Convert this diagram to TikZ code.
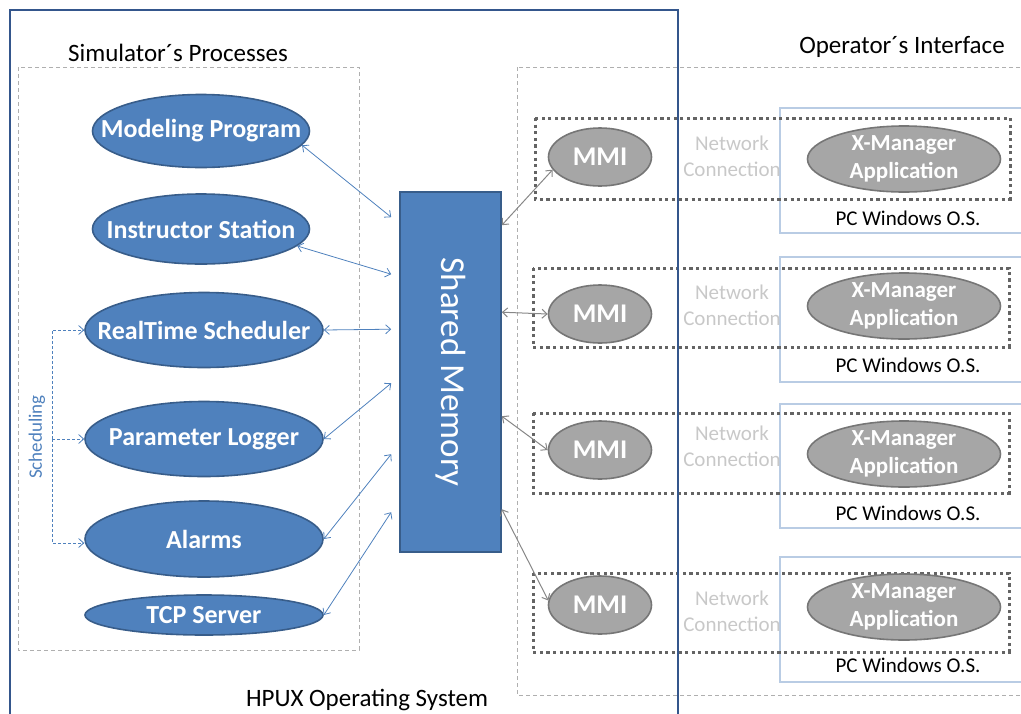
\documentclass[tikz,border=0pt]{standalone}
\usepackage{fontspec}
\setmainfont{Carlito}
\usetikzlibrary{shapes.geometric,arrows.meta}
\definecolor{procblue}{RGB}{79,129,189}
\definecolor{procedge}{RGB}{56,93,138}
\definecolor{osframe}{RGB}{52,86,140}
\definecolor{mmigray}{RGB}{166,166,166}
\definecolor{mmiedge}{RGB}{118,118,118}
\definecolor{linkgray}{RGB}{135,135,135}
\definecolor{dotgray}{RGB}{100,100,100}
\definecolor{pcblue}{RGB}{185,204,228}
\definecolor{netgray}{RGB}{200,200,200}
\definecolor{dashgray}{RGB}{175,175,175}
\begin{document}
\begin{tikzpicture}[x=1pt,y=-1pt,>={Straight Barb[length=5pt,width=9pt]}]
    \tikzstyle{every node}+=[inner sep=0pt]
    \tikzstyle{proc}=[ellipse,draw=procedge,line width=1.6,fill=procblue,minimum width=238,minimum height=75]
    \tikzstyle{ptext}=[text=white,font=\fontsize{26}{28}\selectfont\bfseries]
    \tikzstyle{mmi}=[ellipse,draw=mmiedge,line width=1.6,fill=mmigray,text=white,minimum width=103,minimum height=58,font=\fontsize{27}{28}\selectfont\bfseries]
    \tikzstyle{xman}=[ellipse,draw=mmiedge,line width=1.6,fill=mmigray,minimum width=193,minimum height=66]
    \tikzstyle{xtext}=[text=white,align=center,font=\fontsize{23}{28}\selectfont\bfseries]
    \tikzstyle{pcbox}=[draw=pcblue,line width=2.6]
    \tikzstyle{grp}=[draw=dotgray,line width=3,dash pattern=on 3.2pt off 3.4pt]
    \tikzstyle{area}=[draw=dashgray,line width=0.8,dash pattern=on 4pt off 3pt]
    \tikzstyle{net}=[text=netgray,align=center,font=\fontsize{21}{26}\selectfont]
    \tikzstyle{pctext}=[font=\fontsize{21}{24}\selectfont]
    \tikzstyle{blink}=[<->,procblue,line width=0.8]
    \tikzstyle{glink}=[<->,linkgray,line width=1]
    \tikzstyle{sched}=[->,procblue,line width=0.8,dash pattern=on 3pt off 2pt]
    \useasboundingbox (0,0) rectangle (1021,713);
    \draw [area] (18,67) rectangle (359,650);
    \draw [area] (517,67) rectangle (1040,695);
    \draw (178,53) node (simlabel) [font=\fontsize{25}{28}\selectfont] {Simulator´s Processes};
    \draw (902,47) node (oplabel) [font=\fontsize{25}{28}\selectfont] {Operator´s Interface};
    \draw (367,706) node (oslabel) [anchor=base,font=\fontsize{25}{28}\selectfont] {HPUX Operating System};
    \draw [pcbox] (780,108) rectangle (1040,233);
    \draw [pcbox] (780,257) rectangle (1040,382);
    \draw [pcbox] (780,404) rectangle (1040,528);
    \draw [pcbox] (780,557) rectangle (1040,682);
    \draw [grp] (535,118) rectangle (1010,199);
    \draw [grp] (533,268) rectangle (1009,347);
    \draw [grp] (533,413) rectangle (1009,493);
    \draw [grp] (533,573) rectangle (1009,652);
    \draw (201,131) node (mp) [proc,minimum width=217,minimum height=73,label={[ptext]center:Modeling Program}] {};
    \draw (201,229) node (is) [proc,minimum width=217,minimum height=70,label={[ptext]center:Instructor Station}] {};
    \draw (204,330) node (rts) [proc,label={[ptext]center:RealTime Scheduler}] {};
    \draw (204,439) node (pl) [proc,label={[ptext]center:Parameter Logger}] {};
    \draw (204,539) node (al) [proc,minimum height=76,label={[ptext]center:Alarms}] {};
    \draw (204,615) node (tcp) [proc,minimum height=40,label={[ptext]center:TCP Server}] {};
    \draw (450.5,372) node (shm) [draw=procedge,line width=1.6,fill=procblue,minimum width=101,minimum height=360] {};
    \draw (shm.center) node (shmtext) [rotate=-90,text=white,font=\fontsize{35}{38}\selectfont] {Shared Memory};
    \draw (37,437) node (schedtext) [rotate=90,text=procblue,font=\fontsize{19}{22}\selectfont] {Scheduling};
    \coordinate (sc) at (52,439);
    \draw [sched] (sc) |- (rts.west);
    \draw [sched] (sc) -- (pl.west);
    \draw [sched] (sc) |- ([yshift=-4pt]al.west);
    \draw [blink] (mp.-8) -- ([shift={(-8,26)}]shm.north west);
    \draw [blink] (is.-10) -- ([shift={(-8,83)}]shm.north west);
    \draw [blink] (rts.east) -- ([shift={(-8,138)}]shm.north west);
    \draw [blink] (pl.east) -- ([shift={(-8,192)}]shm.north west);
    \draw [blink] (al.east) -- ([shift={(-8,263)}]shm.north west);
    \draw [blink] (tcp.east) -- ([shift={(-8,321)}]shm.north west);
    \draw (600,157) node (mmi1) [mmi] {MMI};
    \draw (600,314) node (mmi2) [mmi] {MMI};
    \draw (600,450) node (mmi3) [mmi] {MMI};
    \draw (600,605) node (mmi4) [mmi] {MMI};
    \draw (904,159) node (xm1) [xman,label={[xtext]center:X-Manager\\Application}] {};
    \draw (904,306) node (xm2) [xman,label={[xtext]center:X-Manager\\Application}] {};
    \draw (904,454) node (xm3) [xman,label={[xtext]center:X-Manager\\Application}] {};
    \draw (904,607) node (xm4) [xman,label={[xtext]center:X-Manager\\Application}] {};
    \draw (732,156) node (net1) [net] {Network\\Connection};
    \draw (732,305) node (net2) [net] {Network\\Connection};
    \draw (732,446) node (net3) [net] {Network\\Connection};
    \draw (732,611) node (net4) [net] {Network\\Connection};
    \draw (908,218) node (pc1) [pctext] {PC Windows O.S.};
    \draw (908,365) node (pc2) [pctext] {PC Windows O.S.};
    \draw (908,513) node (pc3) [pctext] {PC Windows O.S.};
    \draw (908,665) node (pc4) [pctext] {PC Windows O.S.};
    \draw [glink] ([yshift=-34pt]shm.north east) -- (mmi1.195);
    \draw [glink] ([yshift=-121pt]shm.north east) -- (mmi2.west);
    \draw [glink] ([yshift=-225pt]shm.north east) -- (mmi3.west);
    \draw [glink] ([yshift=-318pt]shm.north east) -- (mmi4.175);
    \draw [osframe,line width=2.6] (10,730) -- (10,10) -- (678,10) -- (678,730);
\end{tikzpicture}
\end{document}
